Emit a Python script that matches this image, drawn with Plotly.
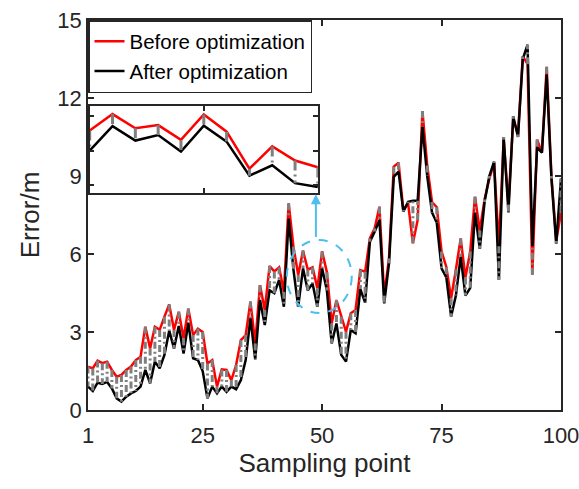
import plotly.graph_objects as go

sampling_points = list(range(1, 101))

before_opt = [
    1.67, 1.60, 1.90, 1.80, 1.86, 1.54, 1.28, 1.35, 1.54, 1.67,
    1.92, 2.05, 3.20, 2.37, 3.20, 3.08, 3.59, 4.06, 3.08, 3.78,
    2.76, 3.90, 2.88, 3.13, 3.00, 1.79, 1.92, 0.90, 1.56, 1.54,
    1.15, 1.73, 2.69, 2.88, 4.17, 2.56, 4.80, 3.85, 5.54, 5.33,
    5.49, 4.55, 7.95, 6.28, 5.19, 6.13, 5.40, 5.49, 4.68, 6.10,
    5.30, 3.33, 4.23, 3.59, 3.01, 3.72, 3.85, 5.38, 5.32, 6.60,
    6.99, 7.82, 4.40, 5.83, 9.36, 9.51, 7.69, 7.95, 6.41, 7.31,
    11.50, 9.40, 8.00, 7.80, 6.10, 5.50, 4.30, 5.40, 6.60, 5.10,
    6.10, 8.20, 6.90, 8.10, 8.90, 9.50, 6.30, 10.40, 7.90, 11.20,
    10.60, 13.60, 13.30, 5.20, 10.40, 9.90, 13.20, 9.00, 6.50, 7.60,
]

after_opt = [
    0.90, 0.73, 1.05, 1.00, 1.08, 0.83, 0.45, 0.32, 0.51, 0.64,
    0.73, 0.90, 1.54, 1.03, 1.86, 1.60, 2.12, 3.05, 2.37, 3.23,
    2.17, 3.36, 1.99, 1.92, 1.50, 0.45, 0.90, 0.64, 0.90, 0.70,
    0.90, 0.80, 1.15, 1.92, 3.53, 1.95, 4.23, 3.27, 4.60, 4.49,
    5.00, 3.97, 7.37, 5.40, 3.97, 5.45, 4.60, 4.87, 3.97, 5.45,
    4.60, 2.56, 3.33, 2.12, 1.86, 3.08, 2.95, 4.65, 4.13, 6.47,
    6.86, 7.31, 4.10, 5.64, 8.97, 9.17, 7.63, 8.01, 8.05, 8.05,
    10.90, 9.00, 7.60, 7.20, 5.45, 5.10, 3.60, 4.40, 5.90, 4.40,
    4.70, 7.60, 6.20, 8.00, 9.00, 9.55, 5.00, 10.50, 7.60, 11.30,
    10.50, 13.50, 14.05, 6.30, 10.10, 9.90, 12.90, 8.90, 6.40, 8.90,
]

inset_points = [40, 41, 42, 43, 44, 45, 46, 47, 48, 49, 50]
inset_before = [5.58, 6.06, 5.65, 5.74, 5.31, 6.05, 5.55, 4.47, 5.12, 4.71, 4.51]
inset_after = [5.00, 5.71, 5.29, 5.45, 4.97, 5.72, 5.26, 4.27, 4.57, 4.05, 3.94]

x_ticks = [1, 25, 50, 75, 100]
y_ticks = [0, 3, 6, 9, 12, 15]

FONT = "Liberation Sans, Arial, sans-serif"
AX = "#262626"
BLUE = "#4DBEEE"
GRAY = "#7F7F7F"


def connectors(xs, a, b):
    cx, cy = [], []
    for x, u, v in zip(xs, a, b):
        cx += [x, x, None]
        cy += [u, v, None]
    return cx, cy


fig = go.Figure()

fig.add_trace(go.Scatter(x=sampling_points, y=before_opt, mode="lines",
                         line=dict(color="#FF0000", width=2.5),
                         name="Before optimization"))
fig.add_trace(go.Scatter(x=sampling_points, y=after_opt, mode="lines",
                         line=dict(color="#000000", width=2.5),
                         name="After optimization"))
cx, cy = connectors(sampling_points, before_opt, after_opt)
fig.add_trace(go.Scatter(x=cx, y=cy, mode="lines", showlegend=False,
                         line=dict(color=GRAY, width=3, dash="7px,3px,2px,3px"),
                         hoverinfo="skip"))

# inset
fig.add_trace(go.Scatter(x=inset_points, y=inset_before, mode="lines", xaxis="x2", yaxis="y2",
                         line=dict(color="#FF0000", width=2.5), showlegend=False))
fig.add_trace(go.Scatter(x=inset_points, y=inset_after, mode="lines", xaxis="x2", yaxis="y2",
                         line=dict(color="#000000", width=2.5), showlegend=False))
icx, icy = connectors(inset_points, inset_before, inset_after)
fig.add_trace(go.Scatter(x=icx, y=icy, mode="lines", xaxis="x2", yaxis="y2", showlegend=False,
                         line=dict(color=GRAY, width=3, dash="10px,4px,2px,4px"),
                         hoverinfo="skip"))

inset_x0, inset_x1 = 0.0036, 0.486
inset_y0, inset_y1 = 0.556, 0.779

fig.update_layout(
    width=579, height=489,
    margin=dict(l=88, r=18, t=20, b=79, autoexpand=False),
    paper_bgcolor="white", plot_bgcolor="white",
    font=dict(family=FONT, color=AX, size=22),
    xaxis=dict(range=[1, 100], tickvals=x_ticks, ticktext=[str(t) for t in x_ticks],
               showgrid=False, zeroline=False, showline=True, mirror="ticks",
               linecolor=AX, linewidth=1.5, ticks="inside", ticklen=6, tickwidth=1.5,
               tickcolor=AX, tickfont=dict(size=22, family=FONT, color=AX),
               ticklabeloverflow="allow", automargin=False, ticklabelstandoff=5,
               title=dict(text="Sampling point", font=dict(size=26, family=FONT, color=AX), standoff=6)),
    yaxis=dict(range=[0, 15], tickvals=y_ticks, automargin=False,
               showgrid=False, zeroline=False, showline=True, mirror="ticks",
               linecolor=AX, linewidth=1.5, ticks="inside", ticklen=6, tickwidth=1.5,
               tickcolor=AX, tickfont=dict(size=22, family=FONT, color=AX),
               title=dict(text="Error/m", font=dict(size=26, family=FONT, color=AX), standoff=10)),
    xaxis2=dict(domain=[inset_x0, inset_x1], anchor="y2", range=[40, 50], tickvals=[45],
                showticklabels=False, showgrid=False, zeroline=False, showline=True,
                mirror="ticks", linecolor=AX, linewidth=1.5, ticks="inside", ticklen=5,
                tickcolor=AX, tickwidth=1.5),
    yaxis2=dict(domain=[inset_y0, inset_y1], anchor="x2", range=[3.76, 6.29], tickvals=[4, 5, 6],
                showticklabels=False, showgrid=False, zeroline=False, showline=True,
                mirror="ticks", linecolor=AX, linewidth=1.5, ticks="inside", ticklen=5,
                tickcolor=AX, tickwidth=1.5),
    legend=dict(x=0, y=1, xanchor="left", yanchor="top", bgcolor="white",
                bordercolor=AX, borderwidth=1.5, font=dict(size=20.5, family=FONT, color="#000000"),
                tracegroupgap=0),
    shapes=[
        dict(type="rect", xref="paper", yref="paper", x0=inset_x0, x1=inset_x1,
             y0=inset_y0, y1=inset_y1, fillcolor="white", line=dict(width=0), layer="below"),
        dict(type="circle", xref="x", yref="y", x0=42.6, x1=56.2, y0=3.73, y1=6.54,
             line=dict(color=BLUE, width=2, dash="dash")),
    ],
    annotations=[
        dict(x=48.7, y=8.3, ax=48.7, ay=6.6, xref="x", yref="y", axref="x", ayref="y",
             text="", showarrow=True, arrowhead=2, arrowsize=1, arrowwidth=2, arrowcolor=BLUE),
    ],
)

fig.write_html("out.html")
